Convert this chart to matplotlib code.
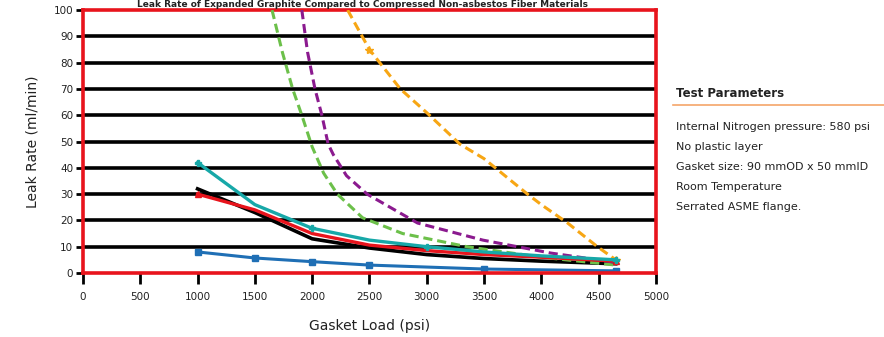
import numpy as np
import matplotlib
matplotlib.use("Agg")
import matplotlib.pyplot as plt

plt.rcParams['font.family'] = ['Liberation Sans Narrow', 'DejaVu Sans']

# gasket load (psi) / leak rate (ml/min)
blue_x = [1000, 1500, 2000, 2500, 3500, 4650]
blue_y = [8, 5.7, 4.3, 3, 1.5, 0.8]

cyan_x = [1000, 1500, 2000, 2500, 3000, 3500, 4000, 4650]
cyan_y = [42, 26, 17, 12.5, 10, 8, 6.5, 5]

black_x = [1000, 1500, 2000, 2500, 3000, 3500, 4000, 4650]
black_y = [32, 23, 13, 9.5, 7, 5.5, 4.5, 3.5]

red_x = [1000, 1500, 2000, 2500, 3000, 3500, 4000, 4650]
red_y = [30, 24, 15, 10.6, 8.5, 7, 6, 4.5]

green_x = [1650, 1740, 1830, 1910, 2000, 2100, 2220, 2440, 2790, 3350, 4000, 4650]
green_y = [100, 84, 70, 60, 48, 38, 30, 21, 15, 10, 6, 3]

purple_x = [1910, 1960, 2025, 2085, 2140, 2185, 2300, 2480, 2920, 3490, 4080, 4650]
purple_y = [100, 84, 70, 60, 49, 45, 37, 30, 19, 12.5, 7.6, 4]

orange_x = [2310, 2500, 2770, 3000, 3290, 3500, 3880, 4000, 4230, 4490, 4650]
orange_y = [100, 85, 70, 61, 49, 43.5, 30, 26, 19, 10, 5]

x_ticks = [0, 500, 1000, 1500, 2000, 2500, 3000, 3500, 4000, 4500, 5000]
y_ticks = [0, 10, 20, 30, 40, 50, 60, 70, 80, 90, 100]

params = ["Internal Nitrogen pressure: 580 psi",
          "No plastic layer",
          "Gasket size: 90 mmOD x 50 mmID",
          "Room Temperature",
          "Serrated ASME flange."]

fig = plt.figure(figsize=(8.84, 3.37), dpi=100)
ax = fig.add_axes([0.0939, 0.19, 0.648, 0.78])

for yv in y_ticks[1:-1]:
    ax.axhline(yv, color='black', lw=2.6, zorder=1)

ax.plot(blue_x, blue_y, color='#1f6fb5', lw=2.2, marker='s', ms=4, zorder=3)
ax.plot(black_x, black_y, color='black', lw=2.6, zorder=3)
ax.plot(red_x, red_y, color='#e8141c', lw=2.4, marker='^', ms=4,
        markevery=[0, 7], zorder=4)
ax.plot(cyan_x, cyan_y, color='#17a8a8', lw=2.4, marker='P', ms=5,
        markevery=[0, 2, 4, 7], zorder=4)
ax.plot(green_x, green_y, color='#6cc04a', lw=2.2, ls=(0, (3, 1.6)), zorder=3)
ax.plot(purple_x, purple_y, color='#8b1a8f', lw=2.2, ls=(0, (3, 1.6)), zorder=3)
ax.plot(orange_x, orange_y, color='#f7a614', lw=2.2, ls=(0, (3, 1.6)),
        marker='*', ms=6, markevery=[1, 10], zorder=3)

ax.set_xlim(0, 5000)
ax.set_ylim(0, 100)
ax.set_xticks(x_ticks)
ax.set_yticks(y_ticks)
ax.tick_params(axis='both', color='black', width=2, labelsize=7.5, labelcolor='#222222')
ax.tick_params(axis='x', length=8, pad=6)
ax.tick_params(axis='y', length=5, pad=2)
for s in ax.spines.values():
    s.set_color('#e8141c')
    s.set_linewidth(2.6)
ax.spines['bottom'].set_zorder(5)

ax.set_xlabel("Gasket Load (psi)", fontsize=10, labelpad=12, color='#222222')
ax.set_ylabel("Leak Rate (ml/min)", fontsize=10, labelpad=10, color='#222222')

fig.text(0.41, 0.999, "Leak Rate of Expanded Graphite Compared to Compressed Non-asbestos Fiber Materials",
         ha='center', va='top', fontsize=6.5, weight='bold', color='#222222')

# test parameters panel
fig.text(0.765, 0.724, "Test Parameters", fontsize=8.5, weight='bold', color='#222222', va='center')
fig.add_artist(plt.Line2D([0.761, 1.0], [0.688, 0.688], color='#f5a66a', lw=1.2,
                          transform=fig.transFigure))
for i, t in enumerate(params):
    fig.text(0.765, 0.623 - i * 0.0593, t, fontsize=8, color='#222222', va='center')

fig.savefig("out.png", dpi=100)
